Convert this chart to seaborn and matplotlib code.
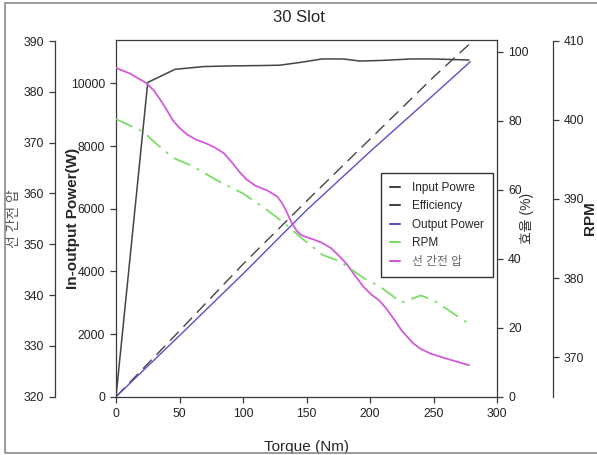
import matplotlib
matplotlib.use('Agg')
import matplotlib.pyplot as plt
import seaborn as sns
from matplotlib.lines import Line2D
from matplotlib.patches import Rectangle

sns.set_style('ticks')
plt.rcParams['font.family'] = ['Liberation Sans', 'Noto Sans CJK KR', 'DejaVu Sans']

# ---- data ----
torque_power = [0, 50, 100, 150, 200, 250, 279]
input_power = [0, 2100, 4230, 6240, 8220, 10200, 11280]
output_power = [0, 1950, 3920, 5950, 7820, 9630, 10690]

torque_eff = [0, 25, 46.5, 69, 92, 115, 129, 147, 162, 179, 192, 211, 232, 250, 278]
efficiency = [0, 91.1, 94.9, 95.7, 95.9, 96.0, 96.1, 97.0, 97.9, 97.9, 97.3, 97.5, 97.9, 97.9, 97.6]

torque_rpm = [0, 21.5, 29.4, 45, 61, 79, 100, 119, 134.5, 145, 163, 176.5, 195, 208, 225, 240, 250, 278]
rpm = [400.1, 398.5, 397.3, 395.2, 394.1, 392.4, 390.7, 388.6, 386.7, 385.2, 382.9, 382.1,
       380.0, 378.9, 376.9, 377.8, 377.2, 374.2]

torque_volt = [0, 11, 24, 30, 35, 40, 45, 50, 56, 63, 71.5, 78, 85, 92, 97, 103, 110, 119, 127,
               131, 134.5, 138, 142.4, 146, 150, 156, 162, 169, 175, 182, 188, 195, 201, 207, 212,
               218.5, 225, 234, 240, 247.5, 260, 278]
line_voltage = [384.7, 383.6, 381.7, 380.2, 378.4, 376.4, 374.3, 372.9, 371.6, 370.6, 369.8,
                369.0, 367.9, 365.9, 364.3, 362.7, 361.5, 360.6, 359.4, 358.0, 356.3, 354.4,
                352.6, 351.8, 351.4, 350.9, 350.3, 349.3, 347.9, 346.0, 343.9, 341.6, 340.1,
                339.0, 337.6, 335.4, 333.0, 330.5, 329.4, 328.5, 327.5, 326.2]

x_ticks = [0, 50, 100, 150, 200, 250, 300]
power_ticks = [0, 2000, 4000, 6000, 8000, 10000]
eff_ticks = [0, 20, 40, 60, 80, 100]
volt_ticks = [320, 330, 340, 350, 360, 370, 380, 390]
rpm_ticks = [370, 380, 390, 400, 410]

legend_labels = ['Input Powre', 'Efficiency', 'Output Power', 'RPM', '선 간전 압']

# colours
c_dark = '#444444'
c_blue = '#5a50c8'
c_green = '#7ddc66'
c_mag = '#d35ad8'
c_spine = '#3a3a3a'

W, H = 597, 455
fig = plt.figure(figsize=(W / 100, H / 100), dpi=100)
fig.patch.set_facecolor('white')
ax = fig.add_axes([116 / W, 1 - 396.7 / H, 381 / W, 356.7 / H])
ax_eff = ax.twinx()
ax_v = ax.twinx()
ax_rpm = ax.twinx()

# lines
sns.lineplot(x=torque_power, y=input_power, ax=ax, color=c_dark, lw=1.0,
             linestyle=(0, (9, 5)), legend=False)
sns.lineplot(x=torque_power, y=output_power, ax=ax, color=c_blue, lw=1.0, legend=False)
sns.lineplot(x=torque_eff, y=efficiency, ax=ax_eff, color=c_dark, lw=1.1, legend=False)
sns.lineplot(x=torque_rpm, y=rpm, ax=ax_rpm, color=c_green, lw=1.3,
             linestyle=(0, (10, 4, 1.5, 4)), legend=False)
sns.lineplot(x=torque_volt, y=line_voltage, ax=ax_v, color=c_mag, lw=1.3,
             solid_joinstyle='round', legend=False)

# scales
ax.set_xlim(0, 300)
ax.set_ylim(0, 11383)
ax_eff.set_ylim(0, 103.4)
ax_v.set_ylim(320, 390.2)
ax_rpm.set_ylim(365, 410.1)

tick_kw = dict(labelsize=8.8, length=4.5, width=0.9, color=c_spine, labelcolor='#222222')

# main axes: box + power ticks
ax.set_xticks(x_ticks)
ax.set_yticks(power_ticks)
ax.tick_params(axis='both', **tick_kw)
for s in ax.spines.values():
    s.set_color(c_spine)
    s.set_linewidth(0.9)
ax.set_xlabel('Torque (Nm)', fontsize=11, va='center')
ax.xaxis.set_label_coords(0.5, -0.141)
ax.set_ylabel('In-output Power(W)', fontsize=11, fontweight='bold', va='center')
ax.yaxis.set_label_coords(-0.113, 0.5)

# efficiency on the right of the box
for name, s in ax_eff.spines.items():
    s.set_visible(False)
ax_eff.set_yticks(eff_ticks)
ax_eff.tick_params(axis='y', **tick_kw)
ax_eff.set_ylabel('효율 (%)', fontsize=10, color='#333333', va='center')
ax_eff.yaxis.set_label_coords(1.079, 0.5)

# line voltage on an outer left axis
for name, s in ax_v.spines.items():
    s.set_visible(name == 'left')
ax_v.spines['left'].set_position(('outward', 44))
ax_v.spines['left'].set_bounds(320, 390)
ax_v.spines['left'].set_color(c_spine)
ax_v.spines['left'].set_linewidth(0.9)
ax_v.yaxis.set_ticks_position('left')
ax_v.yaxis.set_label_position('left')
ax_v.set_yticks(volt_ticks)
ax_v.tick_params(axis='y', **tick_kw)
ax_v.set_ylabel('선 간전 압', fontsize=10, color='#555555', va='center')
ax_v.yaxis.set_label_coords(-0.268, 0.5)

# RPM on an outer right axis
for name, s in ax_rpm.spines.items():
    s.set_visible(name == 'right')
ax_rpm.spines['right'].set_position(('outward', 40.3))
ax_rpm.spines['right'].set_bounds(365, 410)
ax_rpm.spines['right'].set_color(c_spine)
ax_rpm.spines['right'].set_linewidth(0.9)
ax_rpm.set_yticks(rpm_ticks)
ax_rpm.tick_params(axis='y', **tick_kw)
ax_rpm.set_ylabel('RPM', fontsize=11, fontweight='bold', va='center')
ax_rpm.yaxis.set_label_coords(1.243, 0.5)

# legend (all short solid lines)
handles = [Line2D([], [], color=c) for c in [c_dark, c_dark, c_blue, c_green, c_mag]]
leg = ax_rpm.legend(handles, legend_labels, loc='upper right', bbox_to_anchor=(0.9895, 0.627),
                    borderaxespad=0, fontsize=8.5, frameon=True, fancybox=False, framealpha=1,
                    edgecolor='#333333', handlelength=0.9, handletextpad=1.0,
                    labelspacing=0.55, borderpad=0.75)
leg.get_frame().set_linewidth(1.0)
leg.get_texts()[-1].set_color('#666666')

fig.suptitle('30 Slot', y=0.978, fontsize=12)

# outer frame of the picture
fig.patches.append(Rectangle((5 / W, 2 / H), 1.2, 450 / H, transform=fig.transFigure,
                             fill=False, edgecolor='#8a8a8a', lw=1.2))

fig.savefig('out.png', dpi=100)
